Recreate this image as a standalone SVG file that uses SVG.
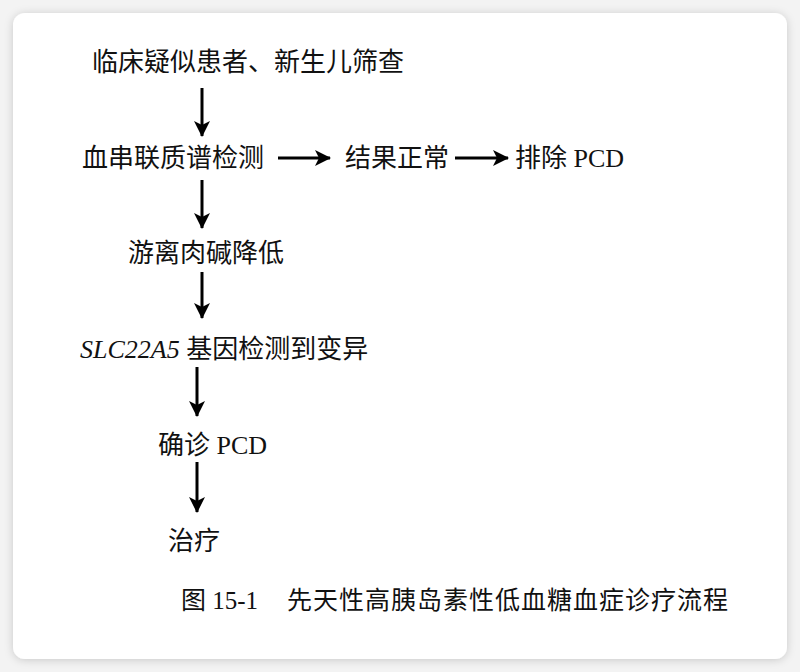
<svg xmlns="http://www.w3.org/2000/svg" width="800" height="672" viewBox="0 0 800 672">
<defs>
<filter id="sh" x="-5%" y="-5%" width="110%" height="110%">
<feDropShadow dx="0" dy="1" stdDeviation="4" flood-color="#000" flood-opacity="0.18"/>
</filter>
<marker id="ah" viewBox="0 0 16 16" refX="15" refY="8" markerWidth="16" markerHeight="16" markerUnits="userSpaceOnUse" orient="auto">
<path d="M0,0 L16,8 L0,16 L4,8 Z" fill="#000"/>
</marker>
<style>
.t{font-family:"Liberation Serif","Noto Sans CJK SC",serif;font-size:26px;fill:#111}
.c{font-size:25px}
.a{stroke:#000;stroke-width:3;fill:none;marker-end:url(#ah)}
</style>
</defs>
<rect width="800" height="672" fill="#f3f3f3"/>
<rect x="13" y="13" width="774" height="646" rx="12" fill="#fff" filter="url(#sh)"/>
<g id="n1"><text class="t" x="92" y="71">临床疑似患者、新生儿筛查</text></g>
<g id="n2"><text class="t" x="82" y="167">血串联质谱检测</text></g>
<g id="n3"><text class="t" x="345" y="167">结果正常</text></g>
<g id="n4"><text class="t" x="515" y="167">排除 PCD</text></g>
<g id="n5"><text class="t" x="128" y="262">游离肉碱降低</text></g>
<g id="n6"><text class="t" x="80" y="358"><tspan font-style="italic">SLC22A5</tspan> 基因检测到变异</text></g>
<g id="n7"><text class="t" x="158" y="454">确诊 PCD</text></g>
<g id="n8"><text class="t" x="168" y="550">治疗</text></g>
<g id="caption"><text class="t c" x="181" y="609">图 15-1</text><text class="t c" x="287" y="609" textLength="441" lengthAdjust="spacing">先天性高胰岛素性低血糖血症诊疗流程</text></g>
<g id="connectors">
<line class="a" x1="202" y1="88" x2="202" y2="136"/>
<line class="a" x1="202" y1="180" x2="202" y2="228"/>
<line class="a" x1="202" y1="272" x2="202" y2="318"/>
<line class="a" x1="197" y1="367" x2="197" y2="416"/>
<line class="a" x1="197" y1="462" x2="197" y2="512"/>
<line class="a" x1="278" y1="158" x2="330" y2="158"/>
<line class="a" x1="455" y1="158" x2="508" y2="158"/>
</g>
</svg>
